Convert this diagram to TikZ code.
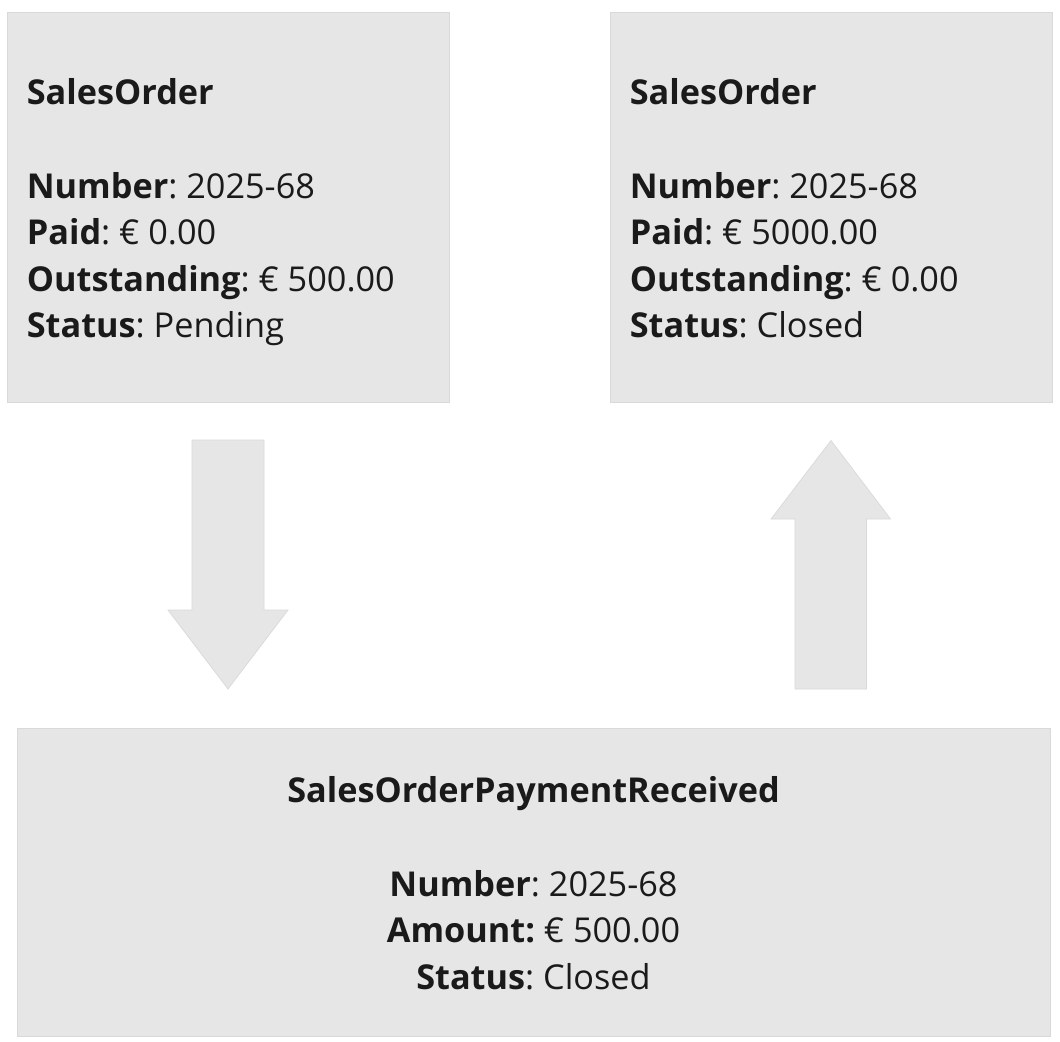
\documentclass[tikz,border=0pt]{standalone}
\usepackage{fontspec}
\setmainfont{Open Sans}
\frenchspacing
\definecolor{boxgray}{HTML}{E6E6E6}
\definecolor{edgegray}{HTML}{D9D9D9}
\definecolor{ink}{HTML}{1A1A1A}
\tikzset{
    box/.style={draw=edgegray, fill=boxgray, line width=0.4pt, inner sep=0pt, anchor=north west},
    txt/.style={text=ink, inner sep=0pt, font=\fontsize{19.5}{26.5}\selectfont},
    bigarrow/.style={draw=edgegray, fill=boxgray, line width=0.4pt}
}
\begin{document}
\begin{tikzpicture}[x=0.02cm,y=-0.02cm]
    \useasboundingbox[fill=white] (0,0) rectangle (1060,1041);
    % boxes
    \node[box, minimum width=8.84cm, minimum height=7.8cm] (before) at (7,12) {};
    \node[box, minimum width=8.84cm, minimum height=7.8cm] (after) at (610,12) {};
    \node[box, minimum width=20.66cm, minimum height=6.16cm] (event) at (17,728) {};
    % texts
    \node[txt, align=left, anchor=north west] (beforetxt) at (26.5,78.5)
        {\textbf{SalesOrder}\\[26.5pt]
         \textbf{Number}: 2025-68\\
         \textbf{Paid}: € 0.00\\
         \textbf{Outstanding}: € 500.00\\
         \textbf{Status}: Pending};
    \node[txt, align=left, anchor=north west] (aftertxt) at (629.5,78.5)
        {\textbf{SalesOrder}\\[26.5pt]
         \textbf{Number}: 2025-68\\
         \textbf{Paid}: € 5000.00\\
         \textbf{Outstanding}: € 0.00\\
         \textbf{Status}: Closed};
    \node[txt, align=center, anchor=north] (eventtxt) at (533.5,776.5)
        {\textbf{SalesOrderPaymentReceived}\\[26.5pt]
         \textbf{Number}: 2025-68\\
         \textbf{Amount:} € 500.00\\
         \textbf{Status}: Closed};
    % arrows
    \draw[bigarrow] (192,440) -- (264,440) -- (264,610) -- (288,610) -- (228,689)
        -- (168,610) -- (192,610) -- cycle;
    \draw[bigarrow] (795,689) -- (866.5,689) -- (866.5,519) -- (890.5,519) -- (831,440.5)
        -- (771,519) -- (795,519) -- cycle;
\end{tikzpicture}
\end{document}
